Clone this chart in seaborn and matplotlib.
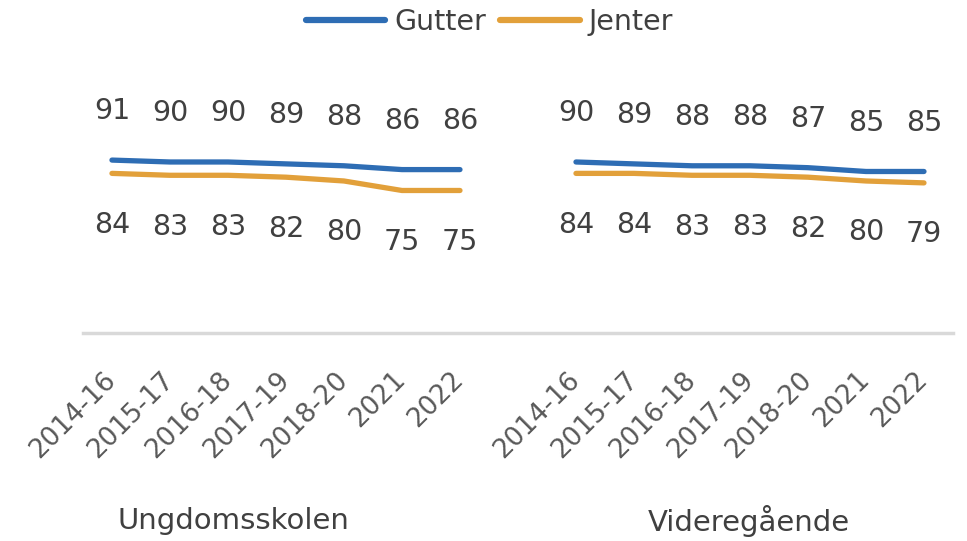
import pandas as pd
import matplotlib
matplotlib.use("Agg")
import matplotlib.pyplot as plt
from matplotlib.lines import Line2D
import seaborn as sns

# Data
perioder = ["2014-16", "2015-17", "2016-18", "2017-19", "2018-20", "2021", "2022"]
grupper = ["Ungdomsskolen", "Videregående"]
gutter_ungdom = [91, 90, 90, 89, 88, 86, 86]
jenter_ungdom = [84, 83, 83, 82, 80, 75, 75]
gutter_vgs = [90, 89, 88, 88, 87, 85, 85]
jenter_vgs = [84, 84, 83, 83, 82, 80, 79]

blaa = "#2E6DB4"
oransje = "#E2A03A"
tekst = "#404040"

# long table, one empty slot between the two groups
rader = []
for g, (gut, jen) in enumerate([(gutter_ungdom, jenter_ungdom), (gutter_vgs, jenter_vgs)]):
    for i, p in enumerate(perioder):
        pos = g * (len(perioder) + 1) + i
        rader.append({"pos": pos, "periode": p, "gruppe": grupper[g], "kjonn": "Gutter", "verdi": gut[i]})
        rader.append({"pos": pos, "periode": p, "gruppe": grupper[g], "kjonn": "Jenter", "verdi": jen[i]})
df = pd.DataFrame(rader)

sns.set_style("white")
plt.rcParams["font.family"] = ["DejaVu Sans"]

fig = plt.figure(figsize=(9.67, 5.41), dpi=100)
ax = fig.add_axes([0.0858, 0.3845, 0.8997, 0.3512])

sns.lineplot(data=df, x="pos", y="verdi", hue="kjonn", units="gruppe", estimator=None,
             palette={"Gutter": blaa, "Jenter": oransje}, linewidth=3.8,
             solid_capstyle="round", legend=False, ax=ax)

# data labels
for _, r in df.iterrows():
    off = 35 if r["kjonn"] == "Gutter" else -37
    ax.annotate(f"{r['verdi']}", (r["pos"], r["verdi"]), xytext=(0, off),
                textcoords="offset points", ha="center", va="center",
                fontsize=20.5, color=tekst, annotation_clip=False)

ax.set_xlim(-0.5, 14.5)
ax.set_ylim(0, 100)
ax.set_yticks([])
ax.set_xticks(df["pos"].unique())
ax.set_xticklabels(perioder + perioder, rotation=45, ha="right", va="center",
                   rotation_mode="anchor", fontsize=19, color="#595959")
ax.tick_params(axis="x", length=0, pad=31)
ax.set_xlabel("")
ax.set_ylabel("")
for s in ["top", "left", "right"]:
    ax.spines[s].set_visible(False)
ax.spines["bottom"].set_color("#D9D9D9")
ax.spines["bottom"].set_linewidth(2.5)

# group labels
fig.text(233 / 967, 1 - 521 / 541, grupper[0], ha="center", va="center", fontsize=21, color=tekst)
fig.text(749 / 967, 1 - 521 / 541, grupper[1], ha="center", va="center", fontsize=21, color=tekst)

handles = [Line2D([], [], color=blaa, lw=4.5, solid_capstyle="round"),
           Line2D([], [], color=oransje, lw=4.5, solid_capstyle="round")]
fig.legend(handles, ["Gutter", "Jenter"], loc="center", bbox_to_anchor=(0.506, 1 - 22 / 541),
           ncol=2, frameon=False, fontsize=20.5, handlelength=2.8, handletextpad=0.3,
           columnspacing=0.5, labelcolor=tekst)

fig.savefig("out.png", dpi=100)
